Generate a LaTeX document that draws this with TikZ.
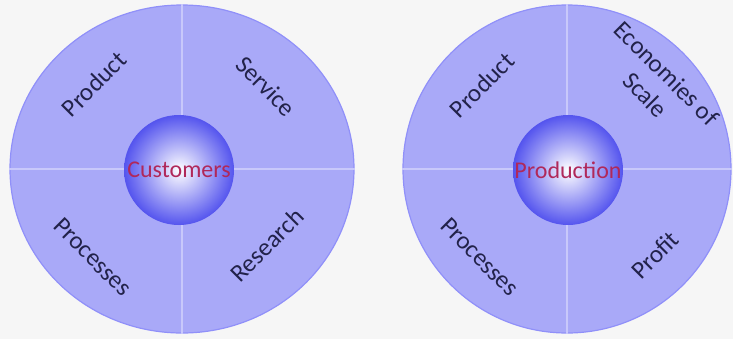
\documentclass[tikz,border=0pt]{standalone}
\usepackage{fontspec}
\setmainfont{Carlito}
\usetikzlibrary{positioning,shapes.geometric}

\definecolor{discfill}{HTML}{A9A9F8}
\definecolor{discline}{HTML}{C8C8FB}
\definecolor{ballblue}{HTML}{5454EE}
\definecolor{labeltext}{HTML}{22224A}
\definecolor{hubtext}{HTML}{B0285A}
\definecolor{paper}{HTML}{F6F6F6}

\begin{document}
\begin{tikzpicture}[x=0.5pt,y=-0.5pt,
  disc/.style={ellipse, fill=discfill, draw=discfill!85!blue, line width=0.6, minimum height=164pt, inner sep=0pt},
  hub/.style={circle, inner color=white, outer color=ballblue, minimum size=55pt, inner sep=0pt},
  hubname/.style={text=hubtext, font=\fontsize{12}{14}\selectfont},
  part/.style={text=labeltext, font=\fontsize{12.5}{15}\selectfont, align=center}]
\fill[paper] (0,0) rectangle (733,339);
\useasboundingbox (0,0) rectangle (733,339);

% left disc
\node[disc, minimum width=172pt] (cdisc) at (182,169) {};
\draw[line width=0.6, color=discline] (cdisc.north) -- (cdisc.south);
\draw[line width=0.6, color=discline] (cdisc.west) -- (cdisc.east);
\node[hub, label={[hubname]center:Customers}] (cust) at (179,170) {};
\node[part, rotate=45] (cprod) at (94,84) {Product};
\node[part, rotate=-45] (cserv) at (266,86) {Service};
\node[part, rotate=-45] (cproc) at (93,257) {Processes};
\node[part, rotate=45] (cres) at (267,245) {Research};

% right disc
\node[disc, minimum width=164pt] (pdisc) at (567,169) {};
\draw[line width=0.6, color=discline] (pdisc.north) -- (pdisc.south);
\draw[line width=0.6, color=discline] (pdisc.west) -- (pdisc.east);
\node[hub, label={[hubname]center:Production}] (prodn) at (568,170) {};
\node[part, rotate=45] (pprod) at (482,85) {Product};
\node[part, rotate=-45] (pecon) at (656,84) {Economies of\\Scale};
\node[part, rotate=-45] (pproc) at (480,257) {Processes};
\node[part, rotate=45] (pprof) at (655,255) {Profit};
\end{tikzpicture}
\end{document}
